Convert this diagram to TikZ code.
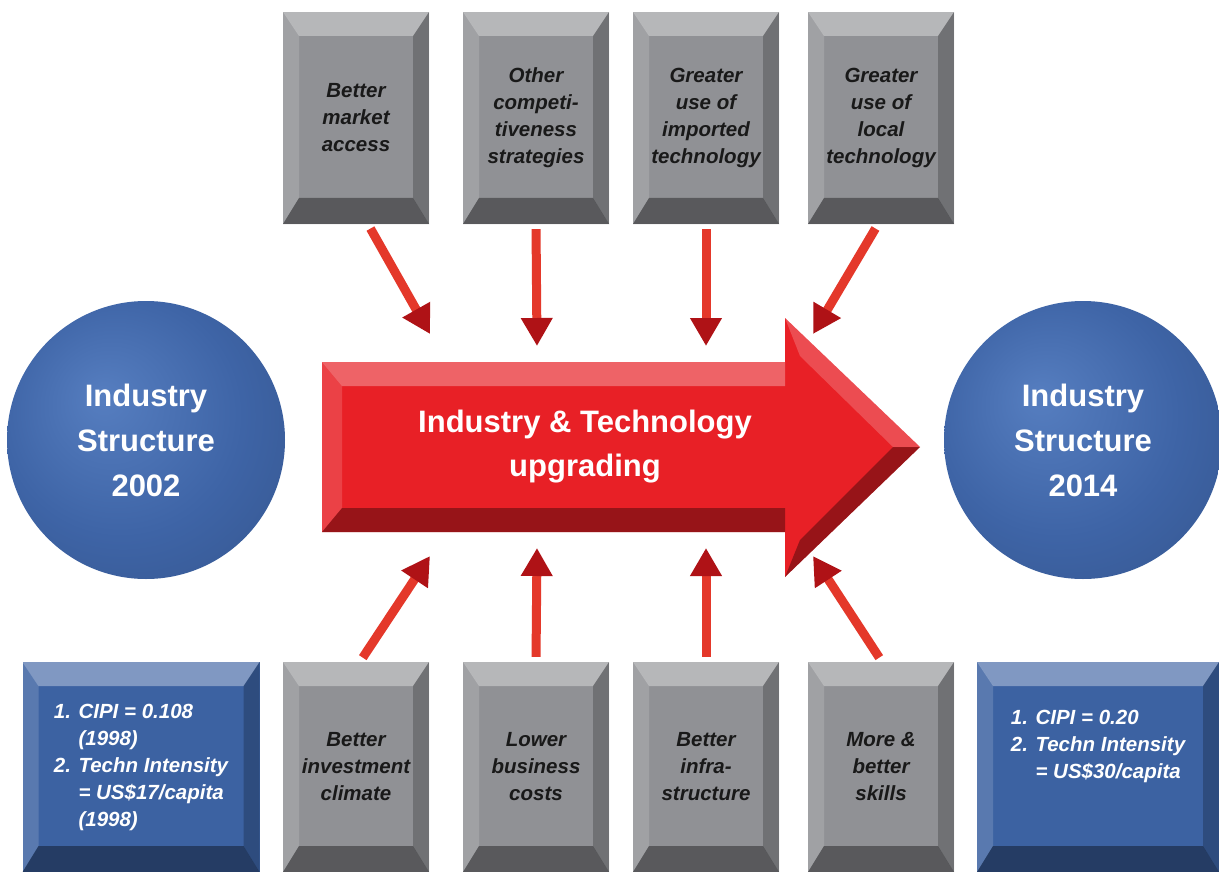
\documentclass[tikz,border=0pt]{standalone}
\usepackage{fontspec}
\setmainfont{Liberation Sans}
\usetikzlibrary{arrows.meta,positioning}

\definecolor{facegray}{RGB}{144,145,149}
\definecolor{faceblue}{RGB}{60,98,162}
\definecolor{bigred}{RGB}{232,32,38}
\definecolor{tipred}{RGB}{175,18,22}
\definecolor{shaftred}{RGB}{228,56,42}
\definecolor{ballhi}{RGB}{86,126,192}
\definecolor{ballmid}{RGB}{62,100,166}
\definecolor{balldark}{RGB}{34,62,118}

\pgfdeclareradialshading{ballshade}{\pgfpoint{-8bp}{8bp}}{%
  color(0bp)=(ballhi); color(22bp)=(ballmid); color(40bp)=(ballmid!85!black); color(50bp)=(balldark)}

\tikzset{
  bevel/.style={path picture={
      \path (path picture bounding box.north west) coordinate (bnw)
            (path picture bounding box.north east) coordinate (bne)
            (path picture bounding box.south west) coordinate (bsw)
            (path picture bounding box.south east) coordinate (bse);
      \fill[white,opacity=.35] (bnw) -- (bne) -- ([shift={(-16pt,-24pt)}]bne) -- ([shift={(16pt,-24pt)}]bnw) -- cycle;
      \fill[white,opacity=.15] (bnw) -- ([shift={(16pt,-24pt)}]bnw) -- ([shift={(16pt,26pt)}]bsw) -- (bsw) -- cycle;
      \fill[black,opacity=.22] (bne) -- (bse) -- ([shift={(-16pt,26pt)}]bse) -- ([shift={(-16pt,-24pt)}]bne) -- cycle;
      \fill[black,opacity=.38] (bsw) -- (bse) -- ([shift={(-16pt,26pt)}]bse) -- ([shift={(16pt,26pt)}]bsw) -- cycle;
    }},
  boxfont/.style={font=\fontsize{20.5}{27}\selectfont\bfseries\itshape},
  graybox/.style={bevel, fill=facegray, boxfont, text=black!90, minimum width=146pt, inner sep=0pt, align=center},
  bluebox/.style={bevel, fill=faceblue, boxfont, text=white, inner sep=0pt, align=left},
  ball/.style={circle, shading=ballshade, minimum size=278pt, inner sep=0pt, align=center,
    text=white, font=\fontsize{31}{45}\selectfont\bfseries},
  feed/.style={line width=9pt, draw=shaftred, -{Triangle[width=30pt,length=28pt,color=tipred]}}
}

\begin{document}
\begin{tikzpicture}[x=1pt,y=-1pt]
\useasboundingbox[fill=white] (0,0) rectangle (1219,872);

% top factors
\node[graybox, minimum height=212pt] (t1) at (356,118) {Better\\market\\access};
\node[graybox, minimum height=212pt] (t2) at (536,118) {Other\\competi-\\tiveness\\strategies};
\node[graybox, minimum height=212pt] (t3) at (706,118) {Greater\\use of\\imported\\technology};
\node[graybox, minimum height=212pt] (t4) at (881,118) {Greater\\use of\\local\\technology};

% bottom factors
\node[graybox, minimum height=210pt] (b1) at (356,767) {Better\\investment\\climate};
\node[graybox, minimum height=210pt] (b2) at (536,767) {Lower\\business\\costs};
\node[graybox, minimum height=210pt] (b3) at (706,767) {Better\\infra-\\structure};
\node[graybox, minimum height=210pt] (b4) at (881,767) {More \&\\better\\skills};

\node[bluebox, minimum width=237pt, minimum height=210pt] (v02) at (141,767)
  {1. CIPI = 0.108\\\phantom{1. }(1998)\\2. Techn Intensity\\\phantom{2. }= US\$17/capita\\\phantom{2. }(1998)};
\node[bluebox, minimum width=242pt, minimum height=210pt] (v14) at (1098,767)
  {1. CIPI = 0.20\\2. Techn Intensity\\\phantom{2. }= US\$30/capita\\[18pt]};

% end states
\node[ball] (s02) at (146,440) {Industry\\Structure\\2002};
\node[ball] (s14) at (1083,440) {Industry\\Structure\\2014};

% big arrow
\fill[bigred] (322,362) -- (785,362) -- (785,318) -- (920,447) -- (785,577) -- (785,532) -- (322,532) -- cycle;
\fill[white,opacity=.3] (322,362) -- (785,362) -- (785,386) -- (342,386) -- cycle;
\fill[white,opacity=.15] (322,362) -- (342,386) -- (342,508) -- (322,532) -- cycle;
\fill[black,opacity=.35] (322,532) -- (342,508) -- (785,508) -- (785,532) -- cycle;
\fill[white,opacity=.2] (785,318) -- (920,447) -- (893,447) -- (800,356) -- cycle;
\fill[black,opacity=.35] (920,447) -- (785,577) -- (800,540) -- (893,447) -- cycle;
\node[text=white, font=\fontsize{31}{44}\selectfont\bfseries, align=center] (upg) at (585,447)
  {Industry \& Technology\\upgrading};

% arrow ends
\coordinate (in1) at (430,334);
\coordinate (in2) at (537,346);
\coordinate (in3) at (706,346);
\coordinate (in4) at (813,334);
\coordinate (up1) at (430,556);
\coordinate (up2) at (537,548);
\coordinate (up3) at (706,548);
\coordinate (up4) at (813,556);

\draw[feed, shorten <=5pt] ([xshift=12pt]t1.south) -- (in1);
\draw[feed, shorten <=5pt] (t2.south) -- (in2);
\draw[feed, shorten <=5pt] (t3.south) -- (in3);
\draw[feed, shorten <=5pt] ([xshift=-3pt]t4.south) -- (in4);
\draw[feed, shorten <=5pt] ([xshift=4pt]b1.north) -- (up1);
\draw[feed, shorten <=5pt] (b2.north) -- (up2);
\draw[feed, shorten <=5pt] (b3.north) -- (up3);
\draw[feed, shorten <=5pt] ([xshift=1pt]b4.north) -- (up4);
\end{tikzpicture}
\end{document}
